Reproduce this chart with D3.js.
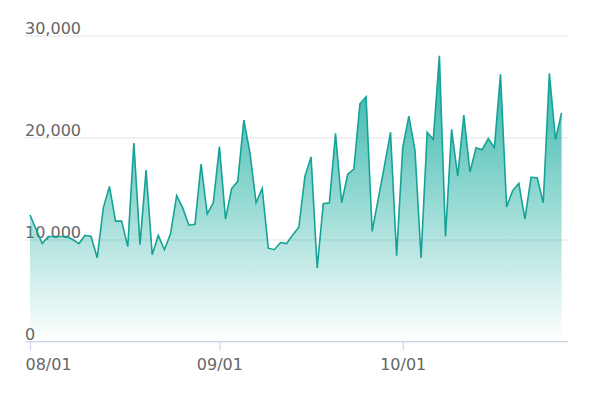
<!DOCTYPE html>
<html>
<head>
<meta charset="utf-8">
<script src="https://cdn.jsdelivr.net/npm/d3@7"></script>
<style>
  html, body { margin: 0; padding: 0; background: #fff; }
  svg { display: block; }
  text { font-family: "DejaVu Sans", sans-serif; }
</style>
</head>
<body>
<svg id="chart" width="599" height="395"></svg>
<script>
// ---- data ----
const startDate = "2023-08-01";
const values = [
  12400, 11000, 9600, 10300, 10300, 10300, 10300, 10000, 9600, 10400,
  10300, 8200, 13100, 15200, 11800, 11800, 9300, 19450, 9500, 16800,
  8500, 10400, 9000, 10550, 14300, 13100, 11400, 11500, 17400, 12500,
  13600, 19100, 12000, 15000, 15700, 21700, 18500, 13600, 15000, 9150,
  9000, 9700, 9600, 10450, 11200, 16200, 18100, 7200, 13500, 13600,
  20400, 13600, 16400, 16900, 23300, 24000, 10800, 14000, 17200, 20500,
  8400, 19000, 22100, 18800, 8200, 20500, 19800, 28000, 10300, 20800,
  16200, 22200, 16600, 19000, 18800, 19900, 19000, 26200, 13200, 14800,
  15500, 12000, 16100, 16050, 13600, 26300, 19800, 22400
];
const yTickValues = [0, 10000, 20000, 30000];
const xTickLabels = ["08/01", "09/01", "10/01"];

// ---- build ----
const parse = d3.timeParse("%Y-%m-%d");
const start = parse(startDate);
const data = values.map((v, i) => ({ date: d3.timeDay.offset(start, i), value: v }));
const end = d3.timeDay.offset(start, values.length);

const svg = d3.select("#chart");
const plotLeft = 25, plotRight = 568;

const x = d3.scaleTime().domain([start, end]).range([30, 567.7]);
const y = d3.scaleLinear().domain([0, 30000]).range([341.5, 35.5]);

// gradient
const defs = svg.append("defs");
const grad = defs.append("linearGradient")
  .attr("id", "areaGrad")
  .attr("gradientUnits", "userSpaceOnUse")
  .attr("x1", 0).attr("x2", 0)
  .attr("y1", y(d3.max(values))).attr("y2", y(0));
grad.append("stop").attr("offset", "0%").attr("stop-color", "#17ac9f").attr("stop-opacity", 0.92);
grad.append("stop").attr("offset", "100%").attr("stop-color", "#17ac9f").attr("stop-opacity", 0.0);

// gridlines + y labels
const yAxis = d3.axisRight(y)
  .tickValues(yTickValues)
  .tickSize(plotRight - plotLeft)
  .tickFormat(d3.format(","));
const gy = svg.append("g").attr("transform", `translate(${plotLeft},0)`).call(yAxis);
gy.select(".domain").remove();
gy.selectAll(".tick line").attr("stroke", "#e3e3e3").attr("stroke-width", 1);
gy.selectAll(".tick text")
  .attr("x", 0).attr("dy", "-2.5")
  .attr("text-anchor", "start")
  .attr("font-size", 16)
  .attr("fill", "#666");
gy.selectAll(".tick text").each(function() { d3.select(this).attr("y", 0); });

// area
const area = d3.area()
  .x(d => x(d.date))
  .y0(y(0))
  .y1(d => y(d.value));
svg.append("path").datum(data)
  .attr("d", area)
  .attr("fill", "url(#areaGrad)");

const line = d3.line().x(d => x(d.date)).y(d => y(d.value));
svg.append("path").datum(data)
  .attr("d", line)
  .attr("fill", "none")
  .attr("stroke", "#15a398")
  .attr("stroke-width", 1.6)
  .attr("stroke-linejoin", "miter");

// x axis
const fmt = d3.timeFormat("%m/%d");
const monthTicks = d3.timeMonth.range(start, end).filter(d => xTickLabels.includes(fmt(d)));
const xAxis = d3.axisBottom(x)
  .tickValues(monthTicks)
  .tickSize(9)
  .tickFormat(fmt);
const gx = svg.append("g").attr("transform", "translate(0,341.5)").call(xAxis);
gx.select(".domain").remove();
gx.append("line").attr("x1", plotLeft).attr("x2", plotRight).attr("y1", 0).attr("y2", 0)
  .attr("stroke", "#ccd6eb").attr("stroke-width", 1.2);
gx.selectAll(".tick line").attr("stroke", "#ccd6eb").attr("stroke-width", 1.2);
gx.selectAll(".tick text")
  .attr("y", 0).attr("dy", "28.5")
  .attr("font-size", 16)
  .attr("fill", "#666");
gx.selectAll(".tick text").filter((d, i) => i === 0)
  .attr("text-anchor", "start")
  .attr("dx", -5 - 0)
  .attr("transform", null)
  .each(function() { d3.select(this).attr("x", 0); });
</script>
</body>
</html>
